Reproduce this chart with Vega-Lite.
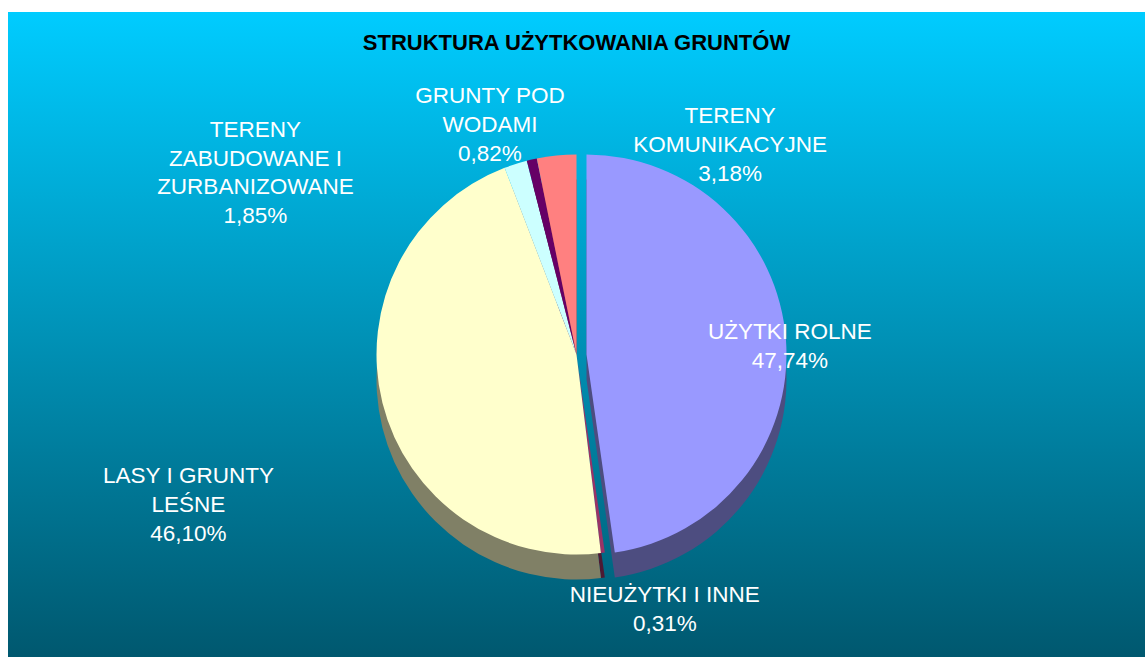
{
  "$schema": "https://vega.github.io/schema/vega-lite/v6.json",
  "width": 1137,
  "height": 645,
  "autosize": "none",
  "padding": {"top": 12, "left": 8, "right": 0, "bottom": 0},
  "background": "#FFFFFF",
  "config": {"view": {"stroke": null}, "font": "Liberation Sans"},
  "title": {
    "text": "STRUKTURA UŻYTKOWANIA GRUNTÓW",
    "font": "Liberation Sans",
    "fontSize": 22,
    "fontWeight": "bold",
    "color": "#000000",
    "anchor": "middle",
    "frame": "group",
    "offset": -43
  },
  "datasets": {
    "land": [
      {"name": "UŻYTKI ROLNE", "value": 47.74, "rank": 1, "label": "UŻYTKI ROLNE\n47,74%"},
      {"name": "NIEUŻYTKI I INNE", "value": 0.31, "rank": 2, "label": "NIEUŻYTKI I INNE\n0,31%"},
      {"name": "LASY I GRUNTY LEŚNE", "value": 46.10, "rank": 3, "label": "LASY I GRUNTY\nLEŚNE\n46,10%"},
      {"name": "TERENY ZABUDOWANE I ZURBANIZOWANE", "value": 1.85, "rank": 4, "label": "TERENY\nZABUDOWANE I\nZURBANIZOWANE\n1,85%"},
      {"name": "GRUNTY POD WODAMI", "value": 0.82, "rank": 5, "label": "GRUNTY POD\nWODAMI\n0,82%"},
      {"name": "TERENY KOMUNIKACYJNE", "value": 3.18, "rank": 6, "label": "TERENY\nKOMUNIKACYJNE\n3,18%"}
    ]
  },
  "layer": [
    {
      "data": {"values": [{"bg": 1}]},
      "mark": {
        "type": "rect",
        "fill": {
          "gradient": "linear",
          "x1": 0, "y1": 0, "x2": 0, "y2": 1,
          "stops": [
            {"offset": 0, "color": "#00CCFF"},
            {"offset": 1, "color": "#00586F"}
          ]
        }
      }
    },
    {
      "data": {"name": "land"},
      "mark": {"type": "arc", "radius": 200, "yOffset": 45},
      "encoding": {
        "theta": {"field": "value", "type": "quantitative", "stack": true},
        "order": {"field": "rank"},
        "color": {
          "field": "name", "type": "nominal", "legend": null,
          "scale": {
            "domain": ["UŻYTKI ROLNE", "NIEUŻYTKI I INNE", "LASY I GRUNTY LEŚNE", "TERENY ZABUDOWANE I ZURBANIZOWANE", "GRUNTY POD WODAMI", "TERENY KOMUNIKACYJNE"],
            "range": ["#4D4D80", "#4D1A33", "#808066", "#668080", "#330033", "#804040"]
          }
        },
        "fillOpacity": {"condition": {"test": "datum.name === 'UŻYTKI ROLNE'", "value": 0}, "value": 1}
      }
    },
    {
      "data": {"name": "land"},
      "mark": {"type": "arc", "radius": 200, "yOffset": 45, "xOffset": 10},
      "encoding": {
        "theta": {"field": "value", "type": "quantitative", "stack": true},
        "order": {"field": "rank"},
        "color": {
          "field": "name", "type": "nominal", "legend": null,
          "scale": {
            "domain": ["UŻYTKI ROLNE", "NIEUŻYTKI I INNE", "LASY I GRUNTY LEŚNE", "TERENY ZABUDOWANE I ZURBANIZOWANE", "GRUNTY POD WODAMI", "TERENY KOMUNIKACYJNE"],
            "range": ["#4D4D80", "#4D1A33", "#808066", "#668080", "#330033", "#804040"]
          }
        },
        "fillOpacity": {"condition": {"test": "datum.name === 'UŻYTKI ROLNE'", "value": 1}, "value": 0}
      }
    },
    {
      "data": {"name": "land"},
      "mark": {"type": "arc", "radius": 200, "yOffset": 20},
      "encoding": {
        "theta": {"field": "value", "type": "quantitative", "stack": true},
        "order": {"field": "rank"},
        "color": {
          "field": "name", "type": "nominal", "legend": null,
          "scale": {
            "domain": ["UŻYTKI ROLNE", "NIEUŻYTKI I INNE", "LASY I GRUNTY LEŚNE", "TERENY ZABUDOWANE I ZURBANIZOWANE", "GRUNTY POD WODAMI", "TERENY KOMUNIKACYJNE"],
            "range": ["#9999FF", "#993366", "#FFFFCC", "#CCFFFF", "#660066", "#FF8080"]
          }
        },
        "fillOpacity": {"condition": {"test": "datum.name === 'UŻYTKI ROLNE'", "value": 0}, "value": 1}
      }
    },
    {
      "data": {"name": "land"},
      "mark": {"type": "arc", "radius": 200, "yOffset": 20, "xOffset": 10},
      "encoding": {
        "theta": {"field": "value", "type": "quantitative", "stack": true},
        "order": {"field": "rank"},
        "color": {
          "field": "name", "type": "nominal", "legend": null,
          "scale": {
            "domain": ["UŻYTKI ROLNE", "NIEUŻYTKI I INNE", "LASY I GRUNTY LEŚNE", "TERENY ZABUDOWANE I ZURBANIZOWANE", "GRUNTY POD WODAMI", "TERENY KOMUNIKACYJNE"],
            "range": ["#9999FF", "#993366", "#FFFFCC", "#CCFFFF", "#660066", "#FF8080"]
          }
        },
        "fillOpacity": {"condition": {"test": "datum.name === 'UŻYTKI ROLNE'", "value": 1}, "value": 0}
      }
    },
    {
      "data": {"name": "land"},
      "mark": {"type": "text", "radius": 214, "yOffset": 20, "dx": 0, "dy": -7, "fontSize": 22.5, "lineHeight": 29, "color": "#FFFFFF", "align": "center", "baseline": "middle", "lineBreak": "\n"},
      "encoding": {
        "theta": {"field": "value", "type": "quantitative", "stack": true},
        "order": {"field": "rank"},
        "text": {"condition": {"test": "datum.name === 'UŻYTKI ROLNE'", "field": "label"}, "value": ""}
      }
    },
    {
      "data": {"name": "land"},
      "mark": {"type": "text", "radius": 260, "yOffset": 20, "dx": 54, "dy": -17, "fontSize": 22.5, "lineHeight": 29, "color": "#FFFFFF", "align": "center", "baseline": "middle", "lineBreak": "\n"},
      "encoding": {
        "theta": {"field": "value", "type": "quantitative", "stack": true},
        "order": {"field": "rank"},
        "text": {"condition": {"test": "datum.name === 'NIEUŻYTKI I INNE'", "field": "label"}, "value": ""}
      }
    },
    {
      "data": {"name": "land"},
      "mark": {"type": "text", "radius": 300, "yOffset": 20, "dx": -97, "dy": 49, "fontSize": 22.5, "lineHeight": 29, "color": "#FFFFFF", "align": "center", "baseline": "middle", "lineBreak": "\n"},
      "encoding": {
        "theta": {"field": "value", "type": "quantitative", "stack": true},
        "order": {"field": "rank"},
        "text": {"condition": {"test": "datum.name === 'LASY I GRUNTY LEŚNE'", "field": "label"}, "value": ""}
      }
    },
    {
      "data": {"name": "land"},
      "mark": {"type": "text", "radius": 230, "yOffset": 20, "dx": -251, "dy": -5, "fontSize": 22.5, "lineHeight": 28.5, "color": "#FFFFFF", "align": "center", "baseline": "middle", "lineBreak": "\n"},
      "encoding": {
        "theta": {"field": "value", "type": "quantitative", "stack": true},
        "order": {"field": "rank"},
        "text": {"condition": {"test": "datum.name === 'TERENY ZABUDOWANE I ZURBANIZOWANE'", "field": "label"}, "value": ""}
      }
    },
    {
      "data": {"name": "land"},
      "mark": {"type": "text", "radius": 235, "yOffset": 20, "dx": -34, "dy": -29, "fontSize": 22.5, "lineHeight": 29, "color": "#FFFFFF", "align": "center", "baseline": "middle", "lineBreak": "\n"},
      "encoding": {
        "theta": {"field": "value", "type": "quantitative", "stack": true},
        "order": {"field": "rank"},
        "text": {"condition": {"test": "datum.name === 'GRUNTY POD WODAMI'", "field": "label"}, "value": ""}
      }
    },
    {
      "data": {"name": "land"},
      "mark": {"type": "text", "radius": 225, "yOffset": 20, "dx": 176, "dy": -15, "fontSize": 22.5, "lineHeight": 29, "color": "#FFFFFF", "align": "center", "baseline": "middle", "lineBreak": "\n"},
      "encoding": {
        "theta": {"field": "value", "type": "quantitative", "stack": true},
        "order": {"field": "rank"},
        "text": {"condition": {"test": "datum.name === 'TERENY KOMUNIKACYJNE'", "field": "label"}, "value": ""}
      }
    }
  ],
  "resolve": {"scale": {"color": "independent"}}
}
